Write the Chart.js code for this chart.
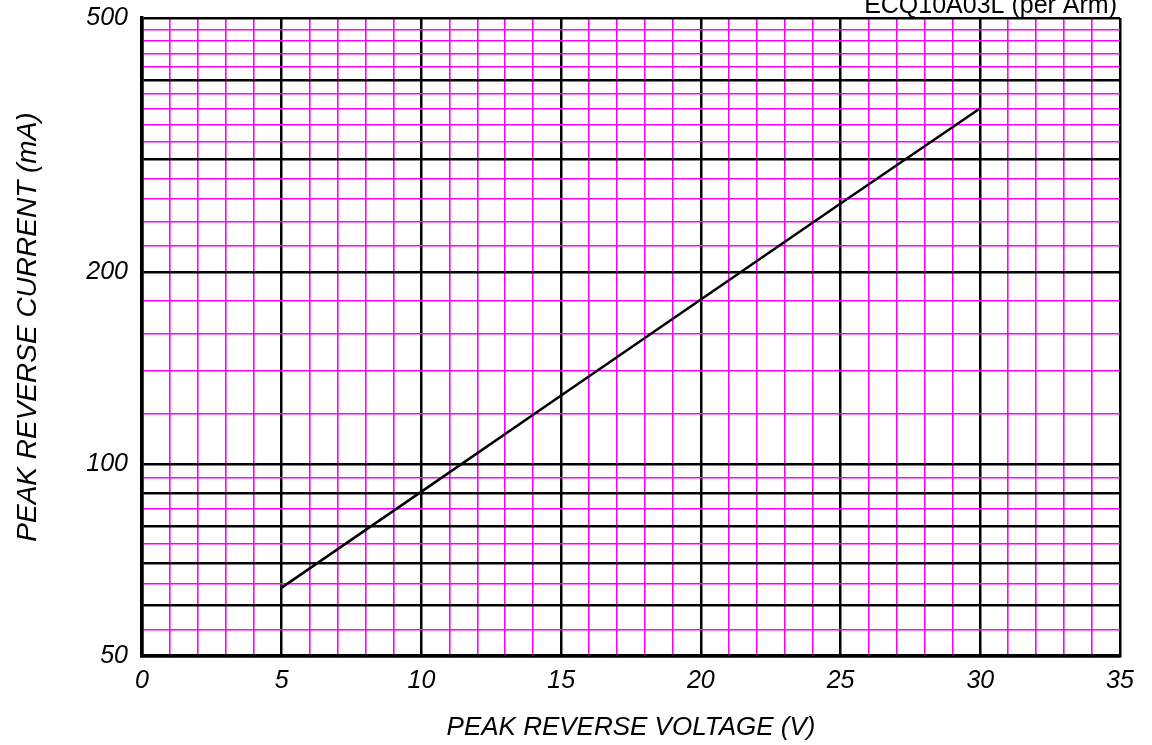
<!DOCTYPE html>
<html>
<head>
<meta charset="utf-8">
<script src="https://cdn.jsdelivr.net/npm/chart.js@4.4.1/dist/chart.umd.min.js"></script>
<style>
html,body{margin:0;padding:0;background:#fff;}
#wrap{width:1152px;height:745px;position:relative;}
</style>
</head>
<body>
<div id="wrap"><canvas id="c" width="1152" height="745"></canvas></div>
<script>
// ---- data ----
const voltage = [5, 10, 15, 20, 25, 30];
const current = [64, 90.5, 128, 181, 256, 361];
const seriesName = 'ECQ10A03L (per Arm)';
const xTitle = 'PEAK REVERSE VOLTAGE (V)';
const yTitle = 'PEAK REVERSE CURRENT (mA)';
const xMajorStep = 5;
const yMajorLines = [50, 60, 70, 80, 90, 100, 200, 300, 400, 500];
const yMinorLines = [55, 65, 75, 85, 95, 120, 140, 160, 180, 220, 240, 260, 280, 320, 340, 360, 380, 420, 440, 460, 480];
const yTickLabels = [50, 100, 200, 500];

const yGrid = yMajorLines.concat(yMinorLines).sort((a, b) => a - b);
const BLACK = '#000000';
const MAGENTA = '#ff00ff';
const FAMILY = '"Liberation Sans", Arial, sans-serif';
const tickFont = {family: FAMILY, size: 25, style: 'italic'};
const titleFont = {family: FAMILY, size: 26, style: 'italic'};

const textPlugin = {
  id: 'textPlugin',
  afterDraw(chart) {
    const ctx = chart.ctx;
    ctx.save();
    ctx.fillStyle = '#000';
    ctx.font = '25px ' + FAMILY;
    ctx.textAlign = 'right';
    ctx.textBaseline = 'alphabetic';
    ctx.fillText(seriesName, 1117, 13);
    // y axis title
    ctx.translate(28, 327);
    ctx.rotate(-Math.PI / 2);
    ctx.font = 'italic 28px ' + FAMILY;
    ctx.textAlign = 'center';
    ctx.textBaseline = 'middle';
    ctx.fillText(yTitle, 0, 0);
    ctx.restore();
  }
};

new Chart(document.getElementById('c'), {
  type: 'line',
  data: {
    datasets: [{
      label: seriesName,
      data: voltage.map((v, i) => ({x: v, y: current[i]})),
      borderColor: BLACK,
      borderWidth: 2.5,
      pointRadius: 0,
      tension: 0,
      fill: false
    }]
  },
  options: {
    responsive: false,
    animation: false,
    devicePixelRatio: 1,
    layout: {padding: {left: 0, right: 32, top: 18, bottom: 0}},
    plugins: {legend: {display: false}, tooltip: {enabled: false}, title: {display: false}},
    scales: {
      x: {
        type: 'linear',
        min: 0, max: 35,
        afterFit(scale) { scale.height = 89; scale.paddingLeft = 0; scale.paddingRight = 0; },
        ticks: {
          stepSize: 1,
          autoSkip: false,
          maxRotation: 0,
          padding: 10,
          color: BLACK,
          font: tickFont,
          callback: v => (v % xMajorStep === 0 ? String(v) : '')
        },
        grid: {
          drawTicks: false,
          color: c => (c.tick && c.tick.value % xMajorStep === 0 ? BLACK : MAGENTA),
          lineWidth: c => (c.tick && c.tick.value % xMajorStep === 0 ? 2.5 : 1.6)
        },
        border: {color: BLACK, width: 3.5},
        title: {display: true, text: xTitle, color: BLACK, font: titleFont, padding: {top: 0, bottom: 2}}
      },
      y: {
        type: 'logarithmic',
        min: 50, max: 500,
        afterFit(scale) { scale.width = 142; scale.paddingTop = 0; scale.paddingBottom = 0; },
        afterBuildTicks(scale) { scale.ticks = yGrid.map(v => ({value: v})); },
        ticks: {
          autoSkip: false,
          padding: 14,
          color: BLACK,
          font: tickFont,
          callback: v => (yTickLabels.includes(v) ? String(v) : '')
        },
        grid: {
          drawTicks: false,
          color: c => (c.tick && yMajorLines.includes(c.tick.value) ? BLACK : MAGENTA),
          lineWidth: c => (c.tick && yMajorLines.includes(c.tick.value) ? 2.5 : 1.6)
        },
        border: {color: BLACK, width: 3.5},
        title: {display: false, text: yTitle}
      }
    }
  },
  plugins: [textPlugin]
});
</script>
</body>
</html>
